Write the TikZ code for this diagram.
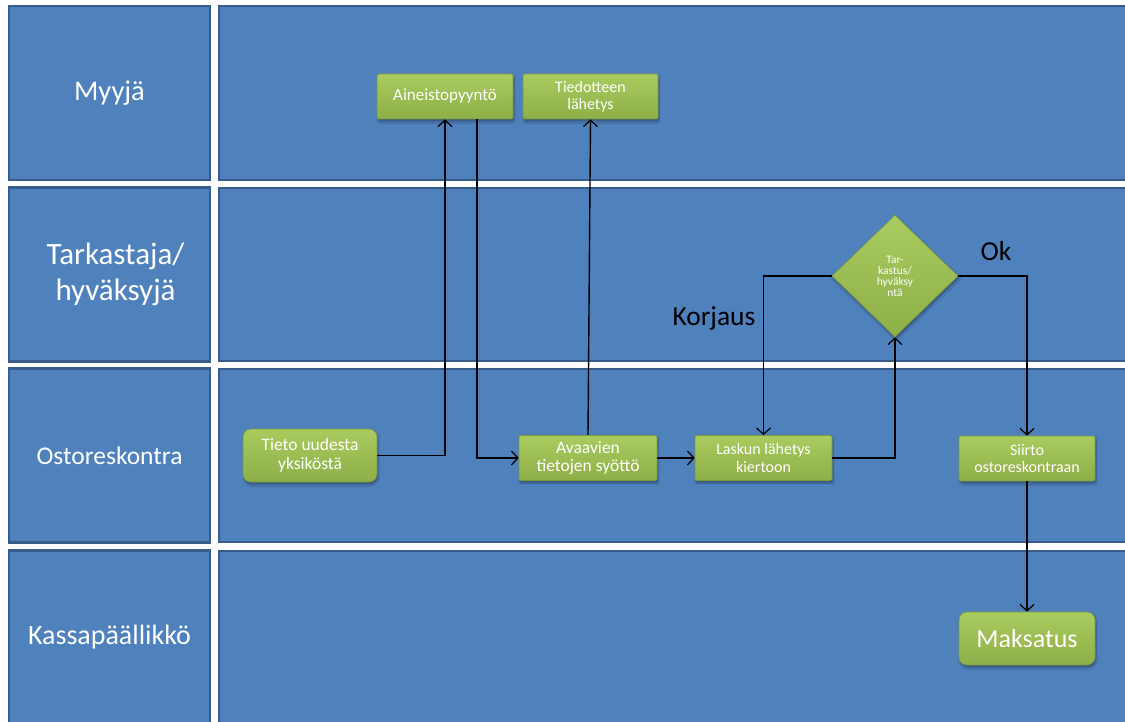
\documentclass[tikz,border=0pt]{standalone}
\usepackage{fontspec}
\setmainfont{Carlito}
\usetikzlibrary{shapes.geometric,arrows.meta,shadows.blur,calc}

\definecolor{lanefill}{HTML}{4F81BD}
\definecolor{laneline}{HTML}{385D8A}
\definecolor{greentop}{HTML}{AACB5E}
\definecolor{greenbot}{HTML}{8EAF48}
\definecolor{greenline}{HTML}{7C9A3C}

\tikzset{
  lane/.style={draw=laneline, fill=lanefill, line width=2.5pt},
  lanelabel/.style={lane, minimum width=201pt, minimum height=174pt,
    text=white, align=center, font=\fontsize{28}{36}\selectfont},
  task/.style={rectangle, rounded corners=1.5pt, draw=greenline, line width=0.6pt,
    top color=greentop, bottom color=greenbot, text=white, align=center,
    inner sep=0pt, minimum width=136pt, minimum height=45pt,
    font=\fontsize{16}{17.5}\selectfont,
    blur shadow={shadow xshift=1pt, shadow yshift=-2.5pt, shadow blur steps=6, shadow opacity=35}},
  roundtask/.style={task, rounded corners=8pt},
  decision/.style={diamond, draw=greenline, line width=0.6pt,
    top color=greentop, bottom color=greenbot, text=white, align=center,
    inner sep=0pt, minimum width=126pt, minimum height=122pt,
    font=\fontsize{11.5}{11}\selectfont,
    blur shadow={shadow xshift=1pt, shadow yshift=-2.5pt, shadow blur steps=6, shadow opacity=35}},
  flow/.style={draw=black, line width=1.4pt, -{Straight Barb[length=6.5pt, width=14pt, line width=1.2pt]}},
  branch/.style={text=black, font=\fontsize{27.5}{30}\selectfont}
}

\begin{document}
\begin{tikzpicture}[x=1pt, y=-1pt]
  \useasboundingbox (0,0) rectangle (1125,722);
  \fill[white] (0,0) rectangle (1125,722);

  % swimlane headers
  \node[lanelabel, font=\fontsize{28.5}{36}\selectfont] (hMyyja) at (109.5, 93) {Myyjä};
  \node[lanelabel, font=\fontsize{31}{36.5}\selectfont] (hTark) at (109.5, 274.5)
    {\hspace*{12pt}Tarkastaja/\\\hspace*{12pt}hyväksyjä};
  \node[lanelabel, font=\fontsize{25.5}{30}\selectfont] (hOsto) at (109.5, 455.5) {Ostoreskontra};
  \node[lanelabel] (hKassa) at (109.5, 637.5) {Kassapäällikkö};

  % swimlane bodies
  \draw[lane] (219,6)   rectangle (1140,180);
  \draw[lane] (219,188) rectangle (1140,361);
  \draw[lane] (219,369) rectangle (1140,542);
  \draw[lane] (219,551) rectangle (1140,724);

  % process steps
  \node[task, font=\fontsize{17}{18}\selectfont] (ain)  at (445, 96.5) {Aineistopyyntö};
  \node[task, minimum width=135pt] (tied) at (590.5, 96.5) {Tiedotteen\\lähetys};
  \node[roundtask, minimum width=134pt, minimum height=53pt, font=\fontsize{17.5}{18.5}\selectfont] (tieto) at (310, 455.5) {Tieto uudesta\\yksiköstä};
  \node[task, minimum width=138pt, font=\fontsize{17.5}{18.5}\selectfont] (ava)  at (588, 458) {Avaavien\\tietojen syöttö};
  \node[task, minimum width=137pt] (lask) at (763.5, 458) {Laskun lähetys\\kiertoon};
  \node[decision] (dia) at (895, 276) {Tar-\\kastus/\\hyväksy\\ntä};
  \node[task] (siirto) at (1027, 458.5) {Siirto\\ostoreskontraan};
  \node[roundtask, minimum height=53pt, font=\fontsize{26}{28}\selectfont] (maks) at (1027, 638.5) {Maksatus};

  % branch labels
  \node[branch] (korj) at (714, 318) {Korjaus};
  \node[branch] (ok)   at (996, 251) {Ok};

  % connectors
  \draw[flow] (tieto.east) -| (ain.south);
  \draw[flow] ([xshift=32pt]ain.south) |- (ava.west);
  \draw[flow] (ava.north) -- (tied.south);
  \draw[flow] (ava.east) -- (lask.west);
  \draw[flow] (lask.east) -| (dia.south);
  \draw[flow] (dia.west) -| (lask.north);
  \draw[flow] (dia.east) -| (siirto.north);
  \draw[flow] (siirto.south) -- (maks.north);
\end{tikzpicture}
\end{document}
